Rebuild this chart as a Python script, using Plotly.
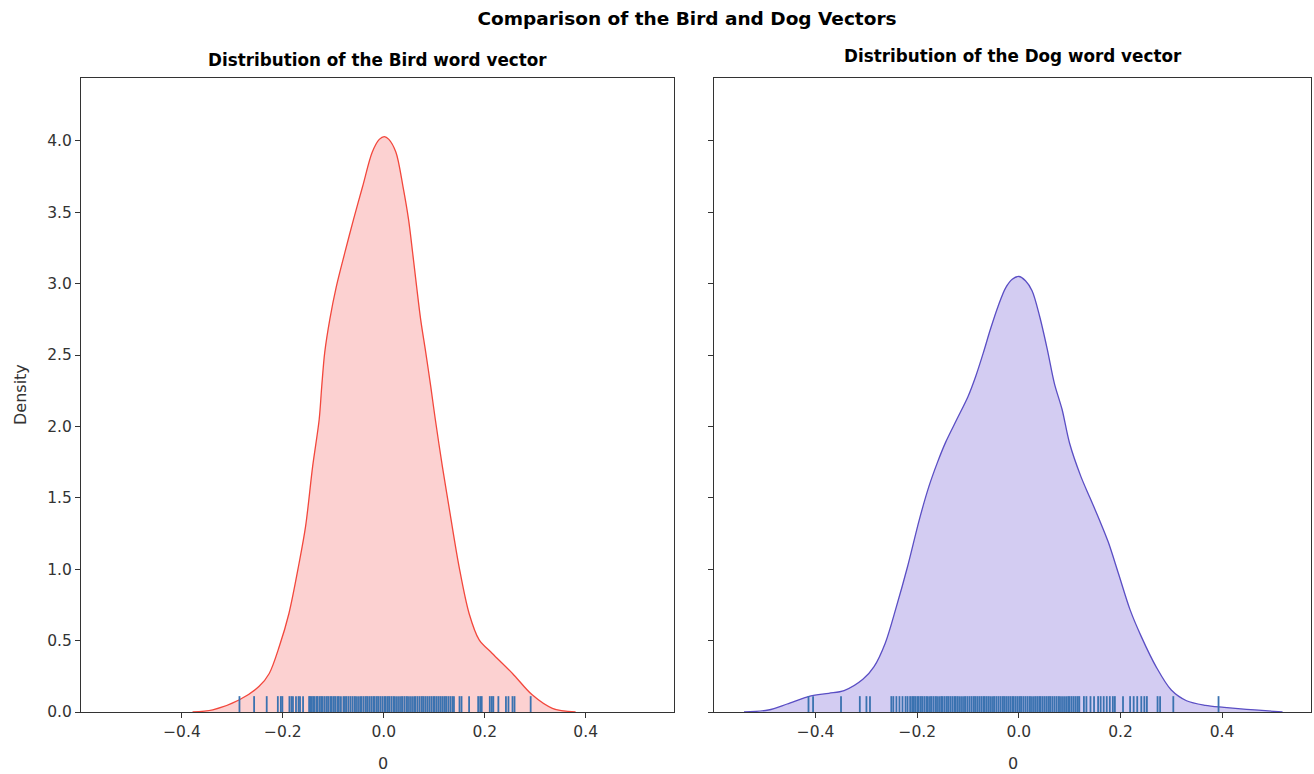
import plotly.graph_objects as go

# ---------------- data ----------------
# KDE curve of the Bird word vector (x, density)
bird_x = [-0.379, -0.339, -0.287, -0.247, -0.227, -0.207, -0.188, -0.168, -0.155, -0.141,
          -0.128, -0.123, -0.117, -0.107, -0.094, -0.077, -0.060, -0.042, -0.023, -0.009,
          0.001, 0.010, 0.024, 0.038, 0.049, 0.057, 0.065, 0.073, 0.083, 0.093,
          0.102, 0.116, 0.129, 0.149, 0.169, 0.189, 0.215, 0.255, 0.294, 0.334, 0.380]
bird_y = [0.0, 0.015, 0.084, 0.18, 0.27, 0.46, 0.69, 1.04, 1.30, 1.72,
          2.05, 2.28, 2.52, 2.75, 2.98, 3.22, 3.45, 3.68, 3.92, 4.01,
          4.03, 4.01, 3.92, 3.68, 3.45, 3.22, 2.98, 2.75, 2.52, 2.28,
          2.05, 1.72, 1.44, 1.02, 0.69, 0.505, 0.41, 0.27, 0.12, 0.026, 0.0]

# KDE curve of the Dog word vector (x, density)
dog_x = [-0.541, -0.493, -0.456, -0.411, -0.374, -0.344, -0.307, -0.285, -0.263, -0.241,
         -0.219, -0.196, -0.177, -0.160, -0.144, -0.122, -0.100, -0.085, -0.070, -0.056,
         -0.041, -0.026, -0.013, 0.000, 0.013, 0.026, 0.041, 0.056, 0.070, 0.085,
         0.100, 0.122, 0.140, 0.158, 0.176, 0.196, 0.219, 0.241, 0.270, 0.300,
         0.330, 0.367, 0.404, 0.448, 0.485, 0.519]
dog_y = [0.0, 0.014, 0.056, 0.112, 0.131, 0.15, 0.229, 0.318, 0.482, 0.738,
         1.019, 1.346, 1.58, 1.75, 1.89, 2.05, 2.21, 2.35, 2.515, 2.68,
         2.84, 2.97, 3.03, 3.05, 3.02, 2.95, 2.77, 2.54, 2.30, 2.12,
         1.88, 1.65, 1.50, 1.35, 1.19, 0.97, 0.715, 0.528, 0.318, 0.154,
         0.079, 0.047, 0.033, 0.019, 0.009, 0.0]

# rug (individual vector components)
bird_rug = [-0.286, -0.257, -0.232, -0.210, -0.204, -0.201, -0.187, -0.183, -0.180, -0.174,
            -0.169, -0.166, -0.160,
            -0.148, -0.146, -0.143, -0.140, -0.137, -0.133, -0.131, -0.127, -0.124, -0.121,
            -0.117, -0.113, -0.110, -0.106, -0.103, -0.099, -0.096, -0.092, -0.089, -0.085,
            -0.080, -0.077, -0.074, -0.070, -0.066, -0.062, -0.058, -0.055, -0.051, -0.047,
            -0.044, -0.040, -0.036, -0.033, -0.029, -0.025, -0.021, -0.018, -0.014, -0.011,
            -0.007, -0.003, 0.001, 0.004, 0.008, 0.011, 0.015, 0.019, 0.022, 0.026,
            0.030, 0.034, 0.037, 0.041, 0.045, 0.048, 0.052, 0.056, 0.060, 0.063,
            0.067, 0.071, 0.075, 0.078, 0.082, 0.086, 0.090, 0.094, 0.098, 0.101,
            0.105, 0.109, 0.113, 0.117, 0.121, 0.124, 0.128, 0.132, 0.136, 0.139,
            0.150, 0.154, 0.169, 0.187, 0.191, 0.194, 0.210, 0.214, 0.217, 0.227,
            0.242, 0.247, 0.255, 0.259, 0.291]

dog_rug = [-0.414, -0.405, -0.350, -0.313, -0.300, -0.293,
           -0.251, -0.247, -0.241, -0.235, -0.229, -0.223, -0.219, -0.214, -0.210,
           -0.207, -0.204, -0.200, -0.197, -0.193, -0.190, -0.186, -0.182, -0.179, -0.175,
           -0.172, -0.168, -0.164, -0.161, -0.157, -0.153, -0.150, -0.146, -0.142, -0.139,
           -0.135, -0.131, -0.127, -0.124, -0.120, -0.116, -0.112, -0.108, -0.105, -0.101,
           -0.097, -0.093, -0.089, -0.086, -0.082, -0.078, -0.074, -0.070, -0.067, -0.063,
           -0.059, -0.055, -0.051, -0.048, -0.044, -0.040, -0.036, -0.032, -0.029, -0.025,
           -0.021, -0.017, -0.013, -0.010, -0.006, -0.002, 0.002, 0.005, 0.009, 0.013,
           0.017, 0.021, 0.024, 0.028, 0.032, 0.036, 0.040, 0.043, 0.047, 0.051,
           0.055, 0.059, 0.062, 0.066, 0.070, 0.074, 0.078, 0.081, 0.085, 0.089,
           0.093, 0.097, 0.100, 0.104, 0.108, 0.112, 0.116, 0.119,
           0.128, 0.133, 0.141, 0.148, 0.156, 0.161, 0.167, 0.173, 0.179, 0.185,
           0.189, 0.205, 0.219, 0.226, 0.233, 0.241, 0.247, 0.252, 0.273, 0.278,
           0.304, 0.393]

x_ticks = [-0.4, -0.2, 0.0, 0.2, 0.4]
y_ticks = [0.0, 0.5, 1.0, 1.5, 2.0, 2.5, 3.0, 3.5, 4.0]

main_title = "Comparison of the Bird and Dog Vectors"
bird_title = "Distribution of the Bird word vector"
dog_title = "Distribution of the Dog word vector"

# ---------------- styling ----------------
FONT = "DejaVu Sans"
X_RANGE = [-0.60, 0.575]
Y_RANGE = [0, 4.44]
RUG_H = 0.025 * (Y_RANGE[1] - Y_RANGE[0])
RUG_COLOR = "#3a72b0"


def rug_xy(vals):
    xs, ys = [], []
    for v in vals:
        xs += [v, v, None]
        ys += [0, RUG_H, None]
    return xs, ys


fig = go.Figure()

fig.add_trace(go.Scatter(x=bird_x, y=bird_y, mode="lines", fill="tozeroy",
                         line=dict(color="#f2473c", width=1.3, shape="spline", smoothing=0.9),
                         fillcolor="rgba(245,90,90,0.28)", xaxis="x", yaxis="y",
                         showlegend=False, hoverinfo="skip"))
rx, ry = rug_xy(bird_rug)
fig.add_trace(go.Scatter(x=rx, y=ry, mode="lines", line=dict(color=RUG_COLOR, width=1.8),
                         xaxis="x", yaxis="y", showlegend=False, hoverinfo="skip"))

fig.add_trace(go.Scatter(x=dog_x, y=dog_y, mode="lines", fill="tozeroy",
                         line=dict(color="#5a4ec4", width=1.3, shape="spline", smoothing=0.9),
                         fillcolor="rgba(120,100,215,0.33)", xaxis="x2", yaxis="y2",
                         showlegend=False, hoverinfo="skip"))
rx, ry = rug_xy(dog_rug)
fig.add_trace(go.Scatter(x=rx, y=ry, mode="lines", line=dict(color=RUG_COLOR, width=1.8),
                         xaxis="x2", yaxis="y2", showlegend=False, hoverinfo="skip"))

axis_common = dict(showline=True, linecolor="#333333", linewidth=1, mirror=True,
                   ticks="outside", ticklen=5, tickwidth=1, tickcolor="#333333",
                   showgrid=False, zeroline=False,
                   tickfont=dict(family=FONT, size=15.5, color="#333333"))

W, H = 1314, 774
ML, MR, MT, MB = 81, 3, 78, 62
PW = W - ML - MR

fig.update_layout(
    width=W, height=H,
    margin=dict(l=ML, r=MR, t=MT, b=MB),
    paper_bgcolor="white", plot_bgcolor="white",
    font=dict(family=FONT, color="#000000"),
    title=dict(text="<b>%s</b>" % main_title, x=687 / W, xanchor="center",
               y=1 - 19 / H, yanchor="middle", yref="container",
               font=dict(family=FONT, size=18.5, color="#000000")),
    xaxis=dict(domain=[0, 593 / PW], range=X_RANGE, tickvals=x_ticks,
               tickformat=".1f", anchor="y", **axis_common),
    yaxis=dict(domain=[0, 1], range=Y_RANGE, tickvals=y_ticks,
               tickformat=".1f", anchor="x", **axis_common),
    xaxis2=dict(domain=[633 / PW, 1], range=X_RANGE, tickvals=x_ticks,
                tickformat=".1f", anchor="y2", **axis_common),
    yaxis2=dict(domain=[0, 1], range=Y_RANGE, tickvals=y_ticks,
                showticklabels=False, anchor="x2", matches="y", **axis_common),
)

ann_font = dict(family=FONT, size=16.8, color="#000000")
fig.add_annotation(text="<b>%s</b>" % bird_title, xref="x domain", yref="paper",
                   x=0.5, y=1, xanchor="center", yanchor="bottom", yshift=6,
                   showarrow=False, font=ann_font)
fig.add_annotation(text="<b>%s</b>" % dog_title, xref="x2 domain", yref="paper",
                   x=0.5, y=1, xanchor="center", yanchor="bottom", yshift=10,
                   showarrow=False, font=ann_font)
fig.add_annotation(text="Density", xref="paper", yref="paper",
                   x=(20 - ML) / PW, y=(712 - 395) / 634, xanchor="center", yanchor="middle",
                   textangle=-90, showarrow=False,
                   font=dict(family=FONT, size=16, color="#333333"))
for ax in ["x", "x2"]:
    fig.add_annotation(text="0", xref="%s domain" % ax, yref="paper",
                       x=(383 - 81) / 593 if ax == "x" else (1013 - 714) / 597,
                       y=(712 - 763) / 634, xanchor="center", yanchor="middle",
                       showarrow=False, font=dict(family=FONT, size=16, color="#333333"))

fig.write_html("out.html")
